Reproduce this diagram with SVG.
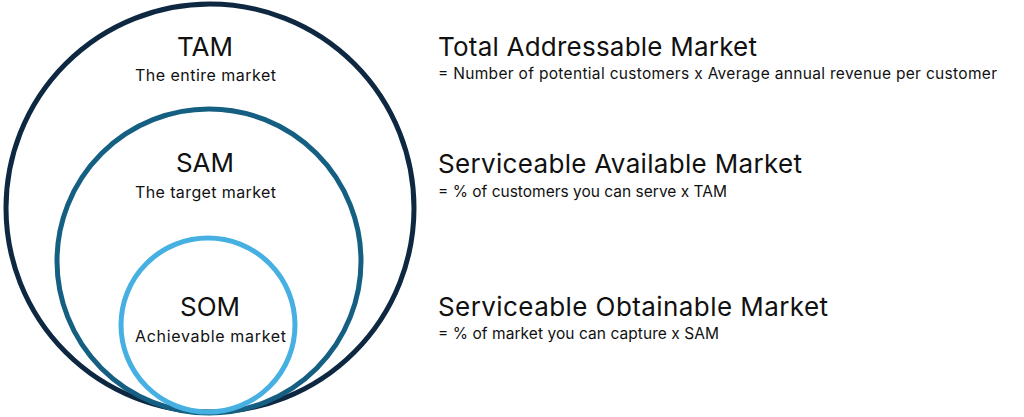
<svg xmlns="http://www.w3.org/2000/svg" width="1024" height="417" viewBox="0 0 1024 417">
<style>
.ring{fill:none;stroke-width:5}
.t{font-family:Inter,"Liberation Sans",Arial,sans-serif;fill:#111}
.big{font-size:26px}
.sub{font-size:16px}
.title{font-size:26px}
.formula{font-size:15.5px}
</style>
<rect width="1024" height="417" fill="#ffffff"/>
<g id="tam">
<circle class="ring" cx="210" cy="208" r="204" stroke="#0E2841"/>
<text class="t big" x="205" y="56" text-anchor="middle">TAM</text>
<text class="t sub" x="205.5" y="81" text-anchor="middle" textLength="141">The entire market</text>
</g>
<g id="sam">
<circle class="ring" cx="209" cy="261" r="152" stroke="#156082"/>
<text class="t big" x="205" y="172" text-anchor="middle">SAM</text>
<text class="t sub" x="205.5" y="198" text-anchor="middle" textLength="141">The target market</text>
</g>
<g id="som">
<circle class="ring" cx="208" cy="325" r="87" stroke="#47B0E2"/>
<text class="t big" x="210" y="316" text-anchor="middle">SOM</text>
<text class="t sub" x="210.5" y="342" text-anchor="middle" textLength="151">Achievable market</text>
</g>
<g id="tam-def">
<text class="t title" x="438" y="56" textLength="319">Total Addressable Market</text>
<text class="t formula" x="438" y="79" textLength="559">= Number of potential customers x Average annual revenue per customer</text>
</g>
<g id="sam-def">
<text class="t title" x="438" y="173" textLength="364">Serviceable Available Market</text>
<text class="t formula" x="438" y="197" textLength="289">= % of customers you can serve x TAM</text>
</g>
<g id="som-def">
<text class="t title" x="438" y="316" textLength="390">Serviceable Obtainable Market</text>
<text class="t formula" x="438" y="339" textLength="281">= % of market you can capture x SAM</text>
</g>
<g id="connectors"/>
</svg>
